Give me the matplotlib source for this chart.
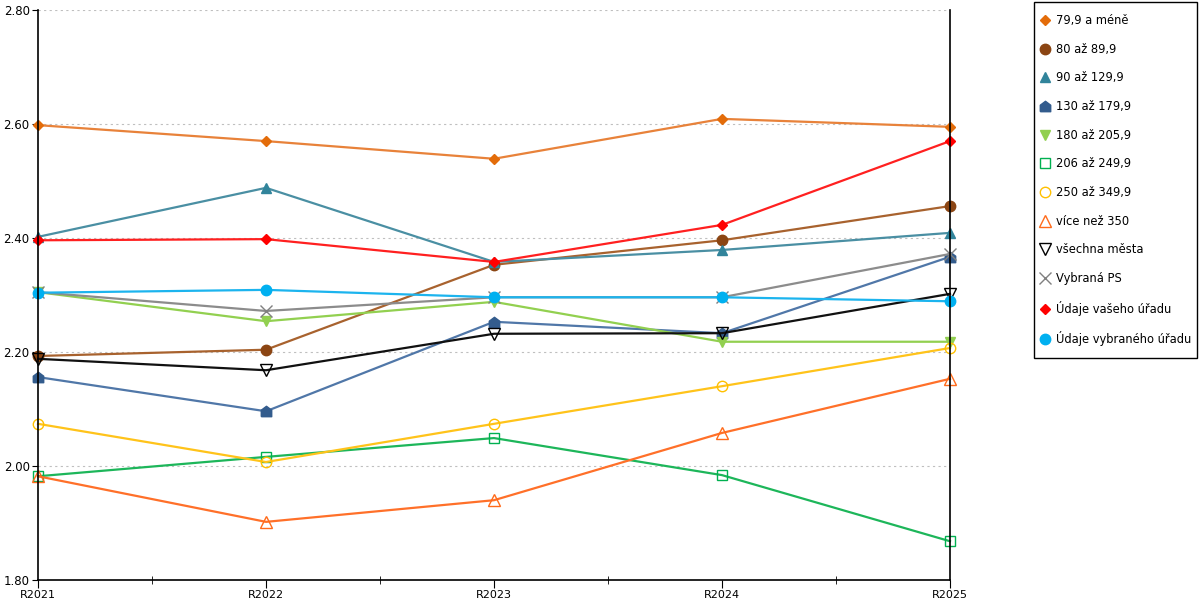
import matplotlib.pyplot as plt
from matplotlib.lines import Line2D
from matplotlib.patches import Rectangle
import numpy as np

plt.rcParams['font.family'] = ['DejaVu Sans']

years = ['R2021', 'R2022', 'R2023', 'R2024', 'R2025']

# values per category group
s_79 = [2.598, 2.570, 2.539, 2.609, 2.595]
s_80 = [2.193, 2.204, 2.353, 2.396, 2.456]
s_90 = [2.402, 2.488, 2.358, 2.379, 2.409]
s_130 = [2.156, 2.096, 2.253, 2.233, 2.367]
s_180 = [2.305, 2.254, 2.288, 2.218, 2.218]
s_206 = [1.982, 2.016, 2.049, 1.984, 1.868]
s_250 = [2.074, 2.007, 2.074, 2.140, 2.207]
s_350 = [1.982, 1.902, 1.940, 2.058, 2.153]
s_all = [2.188, 2.168, 2.232, 2.233, 2.302]
s_ps = [2.305, 2.272, 2.296, 2.296, 2.372]
s_vas = [2.396, 2.398, 2.358, 2.423, 2.570]
s_vyb = [2.304, 2.309, 2.296, 2.296, 2.289]

labels = ['79,9 a méně', '80 až 89,9', '90 až 129,9', '130 až 179,9',
          '180 až 205,9', '206 až 249,9', '250 až 349,9', 'více než 350',
          'všechna města', 'Vybraná PS', 'Údaje vašeho úřadu',
          'Údaje vybraného úřadu']
series = [s_79, s_80, s_90, s_130, s_180, s_206, s_250, s_350,
          s_all, s_ps, s_vas, s_vyb]

house = [(-1, -1), (1, -1), (1, 0.25), (0, 1), (-1, 0.25), (-1, -1)]

# (line colour, marker colour, marker, size, filled)
styles = [
    ('#E8823A', '#E36C0A', 'D', 5.5, True),
    ('#A8622E', '#8B4513', 'o', 7.5, True),
    ('#4A8FA3', '#31849B', '^', 7.5, True),
    ('#5077A8', '#335C8D', house, 7.5, True),
    ('#92D050', '#92D050', 'v', 7.5, True),
    ('#1DB65A', '#00B050', 's', 7.5, False),
    ('#FFC31A', '#FFC000', 'o', 7.5, False),
    ('#FF7029', '#FF6A1A', '^', 8, False),
    ('#111111', '#000000', 'v', 8, False),
    ('#8C8C8C', '#808080', 'x', 8, True),
    ('#FF2020', '#FF0000', 'D', 5.5, True),
    ('#1CB4EE', '#00B0F0', 'o', 7.5, True),
]

fig = plt.figure(figsize=(12, 6), dpi=100)
ax = fig.add_axes([38/1200, 20/600, 912/1200, 570/600])

x = np.arange(len(years))
handles = []
for vals, lab, (lc, mc, m, ms, filled) in zip(series, labels, styles):
    face = mc if filled else 'none'
    ax.plot(x, vals, color=lc, lw=1.6, marker=m, ms=ms,
            markerfacecolor=face, markeredgecolor=mc,
            markeredgewidth=1.0, zorder=3, clip_on=False)
    handles.append(Line2D([], [], linestyle='none', marker=m, ms=ms,
                          markerfacecolor=face, markeredgecolor=mc,
                          markeredgewidth=1.0))

ax.set_xlim(0, 4)
ax.set_ylim(1.8, 2.8)
ax.set_yticks(np.arange(1.8, 2.81, 0.2))
ax.set_yticklabels([f'{v:.2f}' for v in np.arange(1.8, 2.81, 0.2)])
ax.set_xticks(x)
ax.set_xticklabels(years)
ax.set_xticks([0.5, 1.5, 2.5, 3.5], minor=True)
ax.tick_params(axis='x', which='major', length=6, direction='out',
               labelsize=8, pad=1)
ax.tick_params(axis='x', which='minor', length=6, direction='inout')
ax.tick_params(axis='y', length=4, direction='out', labelsize=8.5, pad=2)

for v in np.arange(2.0, 2.81, 0.2):
    ax.axhline(v, color='#BFBFBF', lw=0.8, ls=(0, (2, 3)), zorder=1)

ax.spines['top'].set_visible(False)
for side in ['left', 'right', 'bottom']:
    ax.spines[side].set_color('black')
    ax.spines[side].set_linewidth(1.2)
    ax.spines[side].set_zorder(5)

# legend box drawn separately so the padding can differ per side
fig.patches.append(Rectangle((1034/1200, 242/600), 163/1200, 356/600,
                             transform=fig.transFigure, fill=False,
                             edgecolor='black', lw=1.0))
fig.legend(handles, labels, loc='upper left',
           bbox_to_anchor=(1040/1200, 1 - 14/600), fontsize=8.3,
           frameon=False, handlelength=0.8, handletextpad=0.55,
           labelspacing=1.36, borderpad=0, borderaxespad=0)

fig.savefig('out.png', dpi=100)
